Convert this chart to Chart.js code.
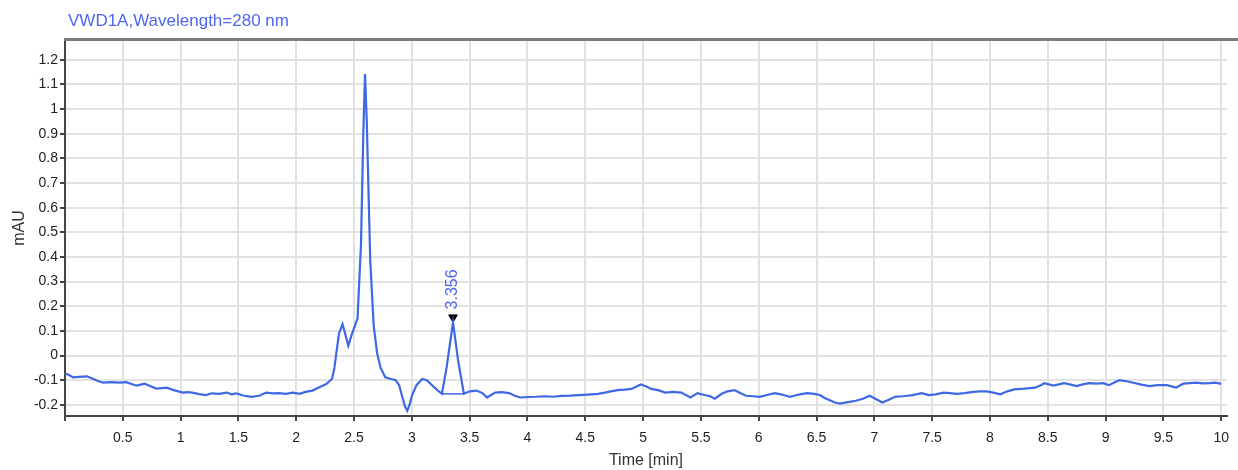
<!DOCTYPE html>
<html>
<head>
<meta charset="utf-8">
<title>VWD1A 280 nm</title>
<script src="https://cdn.jsdelivr.net/npm/chart.js@4.4.1/dist/chart.umd.min.js"></script>
<style>
  html, body { margin: 0; padding: 0; background: #fff; }
  #wrap { width: 1238px; height: 470px; }
</style>
</head>
<body>
<div id="wrap"><canvas id="trace" width="1238" height="470"></canvas></div>
<script>
// Detector trace (time in min, signal in mAU)
const timeMin = [
  0.00, 0.03, 0.07, 0.12, 0.19, 0.24, 0.29, 0.33, 0.40, 0.47,
  0.53, 0.58, 0.62, 0.69, 0.74, 0.79, 0.84, 0.88, 0.94, 1.02,
  1.06, 1.10, 1.16, 1.22, 1.27, 1.33, 1.40, 1.44, 1.48, 1.54,
  1.61, 1.68, 1.74, 1.80, 1.85, 1.91, 1.97, 2.03, 2.08, 2.14,
  2.20, 2.26, 2.31, 2.33, 2.35, 2.37, 2.40, 2.42, 2.45, 2.48,
  2.53, 2.56, 2.58, 2.595, 2.61, 2.64, 2.67, 2.70, 2.73, 2.77,
  2.82, 2.86, 2.89, 2.91, 2.94, 2.96, 2.98, 3.00, 3.04, 3.09,
  3.13, 3.17, 3.22, 3.26, 3.30, 3.356, 3.40, 3.45, 3.50, 3.56,
  3.61, 3.65, 3.72, 3.78, 3.84, 3.90, 3.94, 4.00, 4.07, 4.15,
  4.22, 4.30, 4.37, 4.44, 4.52, 4.61, 4.67, 4.72, 4.78, 4.84,
  4.90, 4.98, 5.03, 5.07, 5.13, 5.19, 5.26, 5.33, 5.41, 5.47,
  5.53, 5.58, 5.62, 5.68, 5.73, 5.79, 5.84, 5.89, 5.95, 6.01,
  6.07, 6.14, 6.20, 6.27, 6.33, 6.38, 6.42, 6.48, 6.53, 6.57,
  6.61, 6.66, 6.70, 6.76, 6.84, 6.90, 6.96, 7.02, 7.07, 7.12,
  7.18, 7.25, 7.33, 7.41, 7.47, 7.53, 7.60, 7.65, 7.72, 7.78,
  7.84, 7.91, 7.97, 8.03, 8.09, 8.15, 8.21, 8.30, 8.39, 8.44,
  8.47, 8.55, 8.64, 8.70, 8.75, 8.81, 8.86, 8.92, 8.98, 9.03,
  9.08, 9.12, 9.18, 9.24, 9.31, 9.38, 9.45, 9.53, 9.61, 9.67,
  9.73, 9.78, 9.84, 9.90, 9.95, 10.00
];
const absorbance = [
  -0.072, -0.078, -0.088, -0.086, -0.084, -0.094, -0.104, -0.110, -0.108, -0.110,
  -0.108, -0.116, -0.122, -0.114, -0.124, -0.134, -0.132, -0.130, -0.140, -0.150,
  -0.148, -0.150, -0.156, -0.160, -0.153, -0.155, -0.150, -0.157, -0.153, -0.162,
  -0.167, -0.163, -0.150, -0.153, -0.152, -0.155, -0.150, -0.155, -0.147, -0.142,
  -0.128, -0.115, -0.094, -0.050, 0.020, 0.090, 0.128, 0.095, 0.040, 0.085,
  0.150, 0.450, 0.900, 1.142, 0.950, 0.386, 0.120, 0.008, -0.050, -0.088,
  -0.095, -0.100, -0.120, -0.155, -0.205, -0.224, -0.200, -0.163, -0.120, -0.095,
  -0.100, -0.118, -0.140, -0.155, -0.050, 0.135, -0.020, -0.155, -0.145, -0.142,
  -0.152, -0.170, -0.150, -0.148, -0.152, -0.165, -0.170, -0.168, -0.167, -0.165,
  -0.167, -0.163, -0.162, -0.160, -0.158, -0.155, -0.150, -0.145, -0.140, -0.138,
  -0.135, -0.117, -0.125, -0.135, -0.140, -0.150, -0.147, -0.150, -0.170, -0.152,
  -0.160, -0.165, -0.175, -0.155, -0.145, -0.140, -0.152, -0.163, -0.165, -0.167,
  -0.160, -0.152, -0.158, -0.167, -0.160, -0.155, -0.152, -0.155, -0.160, -0.172,
  -0.180, -0.190, -0.195, -0.190, -0.183, -0.175, -0.163, -0.178, -0.190, -0.180,
  -0.167, -0.165, -0.160, -0.152, -0.160, -0.157, -0.150, -0.152, -0.155, -0.152,
  -0.148, -0.145, -0.145, -0.150, -0.157, -0.145, -0.137, -0.134, -0.130, -0.120,
  -0.112, -0.122, -0.112, -0.118, -0.124, -0.116, -0.112, -0.114, -0.112, -0.120,
  -0.108, -0.100, -0.104, -0.110, -0.118, -0.124, -0.120, -0.120, -0.130, -0.114,
  -0.112, -0.110, -0.113, -0.112, -0.110, -0.115
];

// Integration baseline under the 3.356 peak
const baseTime = [3.26, 3.45];
const baseLevel = [-0.155, -0.155];

// Peak marker
const peakTime = 3.356;
const peakLabel = '3.356';
const markerLevel = 0.155;

const xTicks = { min: 0, max: 10.05, step: 0.5 };
const yTicks = { min: -0.245, max: 1.28, step: 0.1 };

const traceColor = '#3f68e4';
const textBlue = '#4f66f0';
const fontFamily = '"Liberation Sans", Arial, sans-serif';

const pts = (xs, ys) => xs.map((x, i) => ({ x, y: ys[i] }));

// title, top frame line and the rotated peak label
const decorations = {
  id: 'decorations',
  afterDatasetsDraw(chart) {
    const { ctx, chartArea, scales } = chart;
    ctx.save();
    ctx.strokeStyle = '#7d7d7d';
    ctx.lineWidth = 3;
    ctx.beginPath();
    ctx.moveTo(chartArea.left - 1, chartArea.top - 0.5);
    ctx.lineTo(chart.width, chartArea.top - 0.5);
    ctx.stroke();

    ctx.fillStyle = textBlue;
    ctx.font = '17px ' + fontFamily;
    ctx.textBaseline = 'middle';
    ctx.textAlign = 'left';
    ctx.fillText('VWD1A,Wavelength=280 nm', 68, 21);

    const px = scales.x.getPixelForValue(peakTime);
    const py = scales.y.getPixelForValue(markerLevel);
    ctx.font = '16px ' + fontFamily;
    ctx.translate(px, py - 8);
    ctx.rotate(-Math.PI / 2);
    ctx.fillText(peakLabel, 0, 0);
    ctx.restore();
  }
};

new Chart(document.getElementById('trace'), {
  type: 'line',
  data: {
    datasets: [
      {
        data: pts(timeMin, absorbance),
        borderColor: traceColor,
        borderWidth: 2.2,
        pointRadius: 0,
        tension: 0,
        fill: false
      },
      {
        data: pts(baseTime, baseLevel),
        borderColor: traceColor,
        borderWidth: 1.5,
        pointRadius: 0,
        fill: false
      },
      {
        type: 'scatter',
        data: [{ x: peakTime, y: markerLevel }],
        pointStyle: 'triangle',
        rotation: 180,
        pointRadius: 5,
        backgroundColor: '#000',
        borderColor: '#000',
        borderWidth: 1
      }
    ]
  },
  options: {
    responsive: false,
    animation: false,
    devicePixelRatio: 1,
    layout: { padding: { top: 40, right: 5, left: 0, bottom: 0 } },
    plugins: {
      legend: { display: false },
      tooltip: { enabled: false }
    },
    scales: {
      x: {
        type: 'linear',
        min: xTicks.min,
        max: xTicks.max,
        afterFit: s => { s.height = 54; },
        border: { color: '#444', width: 2 },
        grid: { color: '#e2e2e2', lineWidth: 2, tickColor: '#444', tickLength: 5 },
        ticks: {
          stepSize: xTicks.step,
          includeBounds: false,
          autoSkip: false,
          maxRotation: 0,
          padding: 9,
          color: '#1e1e1e',
          font: { family: fontFamily, size: 14 },
          callback: v => (v === 0 ? '' : String(Math.round(v * 10) / 10))
        },
        title: {
          display: true,
          text: 'Time [min]',
          color: '#333',
          font: { family: fontFamily, size: 16 },
          padding: { top: 0, bottom: 0 }
        }
      },
      y: {
        type: 'linear',
        min: yTicks.min,
        max: yTicks.max,
        afterFit: s => { s.width = 65; },
        border: { color: '#444', width: 2 },
        grid: { color: '#e2e2e2', lineWidth: 2, tickColor: '#444', tickLength: 5 },
        ticks: {
          stepSize: yTicks.step,
          includeBounds: false,
          autoSkip: false,
          padding: 2,
          color: '#1e1e1e',
          font: { family: fontFamily, size: 14 },
          callback: v => String(Math.round(v * 10) / 10)
        },
        title: {
          display: true,
          text: 'mAU',
          color: '#333',
          font: { family: fontFamily, size: 16 },
          padding: { top: 10, bottom: 0 }
        }
      }
    }
  },
  plugins: [decorations]
});
</script>
</body>
</html>
